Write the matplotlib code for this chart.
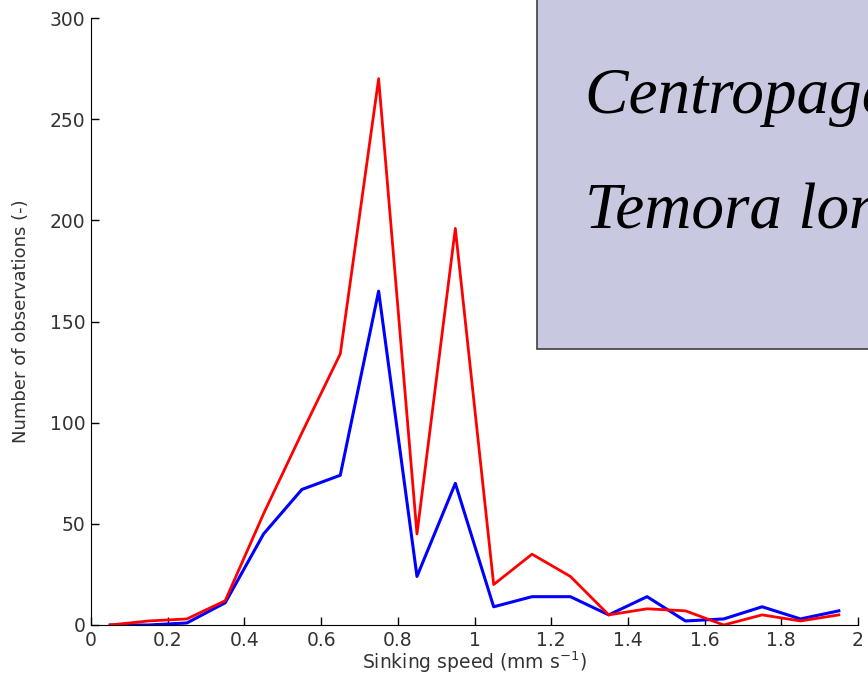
import matplotlib
matplotlib.use("Agg")
import matplotlib.pyplot as plt
from matplotlib.patches import Rectangle
import numpy as np

# bin centres of sinking speed (mm s-1)
speed = [0.05, 0.15, 0.25, 0.35, 0.45, 0.55, 0.65, 0.75, 0.85, 0.95,
         1.05, 1.15, 1.25, 1.35, 1.45, 1.55, 1.65, 1.75, 1.85, 1.95]
# counts per species
centropages = [0, 2, 3, 12, 55, 95, 134, 270, 45, 196,
               20, 35, 24, 5, 8, 7, 0, 5, 2, 5]
temora = [0, 0, 1, 11, 45, 67, 74, 165, 24, 70,
          9, 14, 14, 5, 14, 2, 3, 9, 3, 7]
species = ["Centropages hamatus", "Temora longicornis"]
x_ticks = [0, 0.2, 0.4, 0.6, 0.8, 1, 1.2, 1.4, 1.6, 1.8, 2]
y_ticks = [0, 50, 100, 150, 200, 250, 300]

fig = plt.figure(figsize=(8.68, 6.96), dpi=100)
ax = fig.add_axes([91 / 868, 1 - 625 / 696, (858 - 91) / 868, (625 - 18) / 696])

ax.plot(speed, temora, color="#0000FF", linewidth=2.2)
ax.plot(speed, centropages, color="#FF0000", linewidth=2.0)

ax.set_xlim(0, 2)
ax.set_ylim(0, 300)
ax.set_xticks(x_ticks)
ax.set_xticklabels([f"{t:g}" for t in x_ticks])
ax.set_yticks(y_ticks)
ax.spines["top"].set_visible(False)
ax.spines["right"].set_visible(False)
ax.tick_params(direction="in", length=6, width=1, labelsize=13.5,
               labelcolor="#333333", pad=4)

ax.set_xlabel("Sinking speed (mm s$^{-1}$)", fontsize=13.5, color="#333333",
              labelpad=0)
ax.set_ylabel("Number of observations (-)", fontsize=13, color="#333333",
              labelpad=14)

# overlaid legend-like panel, clipped by the figure edge
panel = Rectangle((537 / 868, 1 - 349 / 696), 0.6, 0.6, transform=fig.transFigure,
                  facecolor="#C8C8E0", edgecolor="#404040", linewidth=1.2, zorder=5)
fig.add_artist(panel)
fig.text(585 / 868, 1 - 113 / 696, species[0], fontsize=47, style="italic",
         family="Liberation Serif", zorder=6)
fig.text(585 / 868, 1 - 228 / 696, species[1], fontsize=47, style="italic",
         family="Liberation Serif", zorder=6)

fig.savefig("out.png", dpi=100)
